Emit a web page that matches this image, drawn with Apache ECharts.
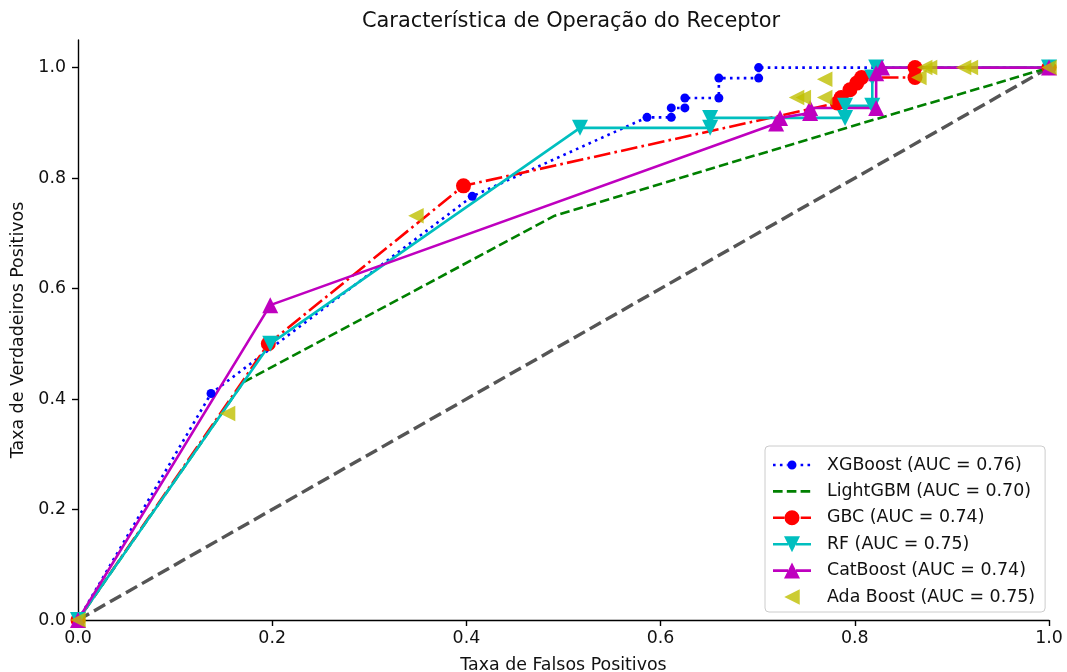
<!DOCTYPE html>
<html>
<head>
<meta charset="utf-8">
<script src="https://cdn.jsdelivr.net/npm/echarts@6/dist/echarts.min.js"></script>
<style>
html,body{margin:0;padding:0;background:#fff;}
#chart{width:1067px;height:672px;}
</style>
</head>
<body>
<div id="chart"></div>
<script>
// ---- data ----
const xgboost = [[0,0],[0.137,0.41],[0.406,0.767],[0.586,0.910],[0.611,0.910],[0.611,0.927],[0.625,0.927],[0.625,0.945],[0.660,0.945],[0.660,0.981],[0.701,0.981],[0.701,1.0],[1,1]];
const lightgbm = [[0,0],[0.17,0.43],[0.491,0.732],[0.826,0.909],[1,1]];
const gbc = [[0,0],[0.196,0.5],[0.397,0.786],[0.782,0.936],[0.786,0.946],[0.795,0.960],[0.802,0.972],[0.807,0.982],[0.862,0.982],[0.862,1.0],[1,1]];
const rf = [[0,0],[0.198,0.5],[0.517,0.891],[0.651,0.891],[0.651,0.909],[0.790,0.909],[0.790,0.931],[0.818,0.931],[0.818,0.982],[0.822,1.0],[1,1]];
const catboost = [[0,0],[0.198,0.57],[0.719,0.899],[0.723,0.909],[0.754,0.918],[0.754,0.927],[0.822,0.927],[0.822,0.99],[0.828,1.0],[1,1]];
const adaboost = [[0,0],[0.154,0.374],[0.348,0.732],[0.740,0.946],[0.747,0.946],[0.769,0.946],[0.769,0.979],[0.866,0.982],[0.872,1.0],[0.877,1.0],[0.912,1.0],[0.919,1.0],[1,1]];
const chance = [[0,0],[1,1]];
const seriesNames = ['XGBoost (AUC = 0.76)','LightGBM (AUC = 0.70)','GBC (AUC = 0.74)','RF (AUC = 0.75)','CatBoost (AUC = 0.74)','Ada Boost (AUC = 0.75)'];
const xTicks = [0,0.2,0.4,0.6,0.8,1.0];
const yTicks = [0,0.2,0.4,0.6,0.8,1.0];
const titleText = 'Característica de Operação do Receptor';
const xLabel = 'Taxa de Falsos Positivos';
const yLabel = 'Taxa de Verdadeiros Positivos';

// ---- styling ----
const FONT = 'DejaVu Sans';
const TXT = '#111111';
const FS = 17.4;
const LW = 2.6;
const DOT = [2.6, 4.3];
const DASH = [9.6, 4.2];
const DASHDOT = [16.7, 4.2, 2.6, 4.2];
const COLORS = ['#0000ff', '#008000', '#ff0000', '#00bfbf', '#bf00bf', '#bfbf00'];

// ---- legend icons (line handle + marker) as paths ----
const IW = 49, IH = 18, YC = 9, LINE_END = 38, MC = 19;
function segs(pattern) {
  if (!pattern) return [[0, LINE_END]];
  const out = []; let x = 0, k = 0;
  while (x < LINE_END) {
    const len = pattern[k % pattern.length];
    if (k % 2 === 0) out.push([x, Math.min(x + len, LINE_END)]);
    x += len; k++;
  }
  return out;
}
function lineRects(pattern, gapHalf) {
  const t = LW / 2; let s = '';
  segs(pattern).forEach(([a, b]) => {
    const parts = [];
    if (gapHalf > 0) {
      const g0 = MC - gapHalf, g1 = MC + gapHalf;
      if (a < g0) parts.push([a, Math.min(b, g0)]);
      if (b > g1) parts.push([Math.max(a, g1), b]);
    } else parts.push([a, b]);
    parts.forEach(([p, q]) => { if (q - p > 0.2) s += `M${p},${YC - t}L${q},${YC - t}L${q},${YC + t}L${p},${YC + t}Z`; });
  });
  return s;
}
function circ(r) { return `M${MC - r},${YC}a${r},${r} 0 1,0 ${2 * r},0a${r},${r} 0 1,0 ${-2 * r},0Z`; }
function triUp(sz) { const h = sz / 2; return `M${MC},${YC - h}L${MC + h},${YC + h}L${MC - h},${YC + h}Z`; }
function triDown(sz) { const h = sz / 2; return `M${MC - h},${YC - h}L${MC + h},${YC - h}L${MC},${YC + h}Z`; }
function triLeft(sz) { const h = sz / 2; return `M${MC - h},${YC}L${MC + h},${YC - h}L${MC + h},${YC + h}Z`; }
const anchor = `M0,0M${IW},${IH}`;
const legendIcons = [
  'path://' + anchor + lineRects(DOT, 4.6) + circ(4.5),
  'path://' + anchor + lineRects(DASH, 0),
  'path://' + anchor + lineRects(DASHDOT, 7.6) + circ(7.5),
  'path://' + anchor + lineRects(null, 4) + triDown(16),
  'path://' + anchor + lineRects(null, 4) + triUp(16),
  'path://' + anchor + triLeft(15.5)
];

const chart = echarts.init(document.getElementById('chart'));
const fmt = v => v.toFixed(1);

function lineSeries(i, data, dash, symbol, size, rotate) {
  return {
    name: seriesNames[i], type: 'line', data: data,
    symbol: symbol, symbolSize: size, symbolRotate: rotate || 0,
    showAllSymbol: true,
    lineStyle: {color: COLORS[i], width: LW, type: dash},
    itemStyle: {color: COLORS[i], borderWidth: 0},
    emphasis: {disabled: true},
    z: 3
  };
}

chart.setOption({
  animation: false,
  title: {
    text: titleText, left: 566, top: 6, textAlign: 'center',
    textStyle: {fontFamily: FONT, fontSize: 20.9, fontWeight: 'normal', color: TXT}
  },
  grid: {left: 78, top: 40, width: 971, height: 580, containLabel: false, outerBoundsMode: 'none'},
  xAxis: {
    type: 'value', min: 0, max: 1,
    name: xLabel, nameLocation: 'middle', nameGap: 37,
    nameTextStyle: {fontFamily: FONT, fontSize: FS, color: TXT},
    axisLine: {lineStyle: {color: '#000', width: 1.4}},
    axisTick: {show: true, length: 6, inside: false, customValues: xTicks, lineStyle: {color: '#000', width: 1.4}},
    axisLabel: {customValues: xTicks, formatter: fmt, fontFamily: FONT, fontSize: FS, color: TXT, margin: 10},
    splitLine: {show: false}
  },
  yAxis: {
    type: 'value', min: 0, max: 1.05,
    name: yLabel, nameLocation: 'middle', nameGap: 46, nameRotate: 90,
    nameTextStyle: {fontFamily: FONT, fontSize: FS, color: TXT},
    axisLine: {show: true, lineStyle: {color: '#000', width: 1.4}},
    axisTick: {show: true, length: 6, customValues: yTicks, lineStyle: {color: '#000', width: 1.4}},
    axisLabel: {customValues: yTicks, formatter: fmt, fontFamily: FONT, fontSize: FS, color: TXT, margin: 12},
    splitLine: {show: false}
  },
  legend: {
    orient: 'vertical', left: 765, top: 446,
    padding: [9, 10, 5, 8], itemGap: 6.4, itemWidth: IW, itemHeight: IH,
    symbolKeepAspect: true,
    backgroundColor: '#fff', borderColor: '#cccccc', borderWidth: 1, borderRadius: 4,
    textStyle: {fontFamily: FONT, fontSize: FS, color: TXT, lineHeight: 20},
    data: seriesNames.map((n, i) => ({
      name: n, icon: legendIcons[i],
      itemStyle: {color: COLORS[i], borderWidth: 0}
    }))
  },
  series: [
    {
      name: 'chance', type: 'line', data: chance, symbol: 'none',
      lineStyle: {color: '#555555', width: 3.4, type: [12.8, 5.6]}, z: 2, silent: true
    },
    lineSeries(0, xgboost, DOT, 'circle', 9),
    lineSeries(1, lightgbm, DASH, 'none', 0),
    lineSeries(2, gbc, DASHDOT, 'circle', 15),
    lineSeries(3, rf, 'solid', 'triangle', 16, 180),
    lineSeries(4, catboost, 'solid', 'triangle', 16, 0),
    {
      name: seriesNames[5], type: 'scatter', data: adaboost,
      symbol: 'triangle', symbolSize: 15.5, symbolRotate: 90,
      itemStyle: {color: COLORS[5]}, emphasis: {disabled: true}, z: 3
    }
  ]
});
</script>
</body>
</html>
